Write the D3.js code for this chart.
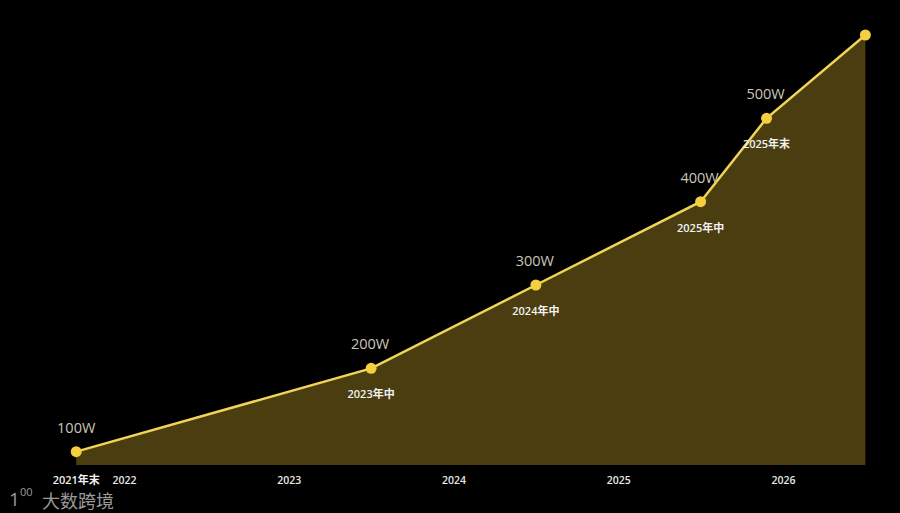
<!DOCTYPE html>
<html><head><meta charset="utf-8">
<script src="https://cdn.jsdelivr.net/npm/d3@7"></script>
<style>html,body{margin:0;padding:0;background:#000;}svg{display:block;}</style>
</head><body>
<svg id="chart" width="900" height="513"></svg>
<script>
const pointTimes = [2021.71, 2023.5, 2024.5, 2025.5, 2025.9, 2026.5];
const pointValues = [100, 200, 300, 400, 500, 600];
const valueLabels = ["100W", "200W", "300W", "400W", "500W", ""];
const dateLabels = ["2021年末", "2023年中", "2024年中", "2025年中", "2025年末", ""];
const axisYears = [2022, 2023, 2024, 2025, 2026];

const svg = d3.select("#chart");
svg.append("rect").attr("width", 900).attr("height", 513).attr("fill", "#000");

const x = d3.scaleLinear().domain([2022, 2026]).range([124, 783]);
const y = d3.scaleLinear().domain([84, 600]).range([465, 35]);

const data = pointTimes.map((t, i) => ({t, v: pointValues[i], lab: valueLabels[i], date: dateLabels[i]}));

const area = d3.area().x(d => x(d.t)).y0(y(84)).y1(d => y(d.v));
svg.append("path").datum(data).attr("d", area).attr("fill", "#4a3e10");

const line = d3.line().x(d => x(d.t)).y(d => y(d.v));
svg.append("path").datum(data).attr("d", line).attr("fill", "none")
  .attr("stroke", "#f0d458").attr("stroke-width", 2.5);

svg.selectAll("circle.pt").data(data).join("circle").attr("class", "pt")
  .attr("cx", d => x(d.t)).attr("cy", d => y(d.v)).attr("r", 5.5).attr("fill", "#f5cf3e");

const font = "'Open Sans','Noto Sans CJK SC',sans-serif";

svg.selectAll("text.val").data(data.filter(d => d.lab)).join("text").attr("class", "val")
  .attr("x", (d, i) => x(d.t) + (i === 0 ? 0 : -1)).attr("y", d => y(d.v) - 19)
  .attr("text-anchor", "middle").attr("fill", "#cbc6b8")
  .style("font-family", font).style("font-size", "14.5px").text(d => d.lab);

// date labels below points (first one sits on the axis row)
svg.selectAll("text.date").data(data.filter((d, i) => d.date && i > 0)).join("text").attr("class", "date")
  .attr("x", d => x(d.t)).attr("y", d => y(d.v) + 30)
  .attr("text-anchor", "middle").attr("fill", "#f2f2f2")
  .style("font-family", font).style("font-size", "11px").style("font-weight", "600").text(d => d.date);

svg.append("text").attr("x", x(data[0].t)).attr("y", 484).attr("text-anchor", "middle")
  .attr("fill", "#f2f2f2").style("font-family", font).style("font-size", "11px").style("font-weight", "600")
  .text(data[0].date);

const xAxis = d3.axisBottom(x).tickValues(axisYears).tickFormat(d3.format("d")).tickSize(0).tickPadding(0);
const gx = svg.append("g").attr("transform", "translate(0,477)").call(xAxis);
gx.select(".domain").remove();
gx.selectAll("text").attr("fill", "#e8e8e8").attr("dy", "0.71em")
  .style("font-family", font).style("font-size", "10.5px").style("font-weight", "600");

// watermark
const wm = svg.append("g").attr("fill", "#9a9a9a").style("font-family", font);
wm.append("text").attr("x", 9).attr("y", 506).style("font-size", "19px").text("1");
wm.append("text").attr("x", 20).attr("y", 496).style("font-size", "11px").text("00");
wm.append("text").attr("x", 42).attr("y", 508).style("font-size", "18px").style("font-family", "'Noto Sans CJK SC',sans-serif").text("大数跨境");
</script>
</body></html>
